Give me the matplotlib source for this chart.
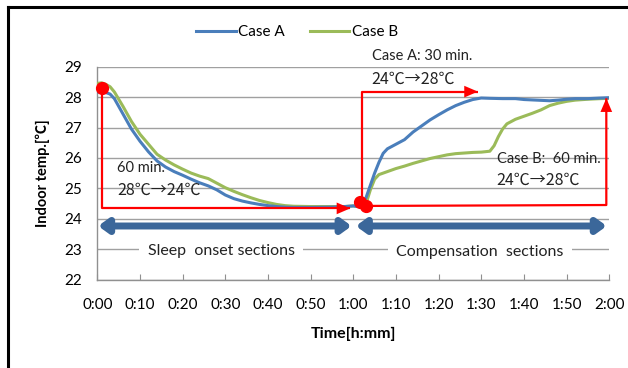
import matplotlib
matplotlib.use("Agg")
import matplotlib.pyplot as plt
from matplotlib.lines import Line2D

plt.rcParams['font.family'] = ['Lato', 'Noto Sans CJK JP', 'DejaVu Sans']
CJK = ['Noto Sans CJK JP', 'DejaVu Sans']

# ---- data (minutes, degC) ----
t_a = [0, 1, 2, 3, 4, 6, 8, 10, 12, 14, 16, 18, 20, 22, 24, 26, 28, 30, 32, 34, 36, 38, 40, 42, 44,
       46, 50, 55, 58, 60, 61, 62, 63, 64, 65, 66, 67, 68, 70, 72, 74, 76, 78, 80, 82, 84, 86, 88,
       90, 92, 95, 98, 100, 103, 106, 108, 110, 112, 115, 118, 120]
temp_a = [28.17, 28.17, 28.15, 28.1, 27.95, 27.45, 26.95, 26.55, 26.2, 25.9, 25.7, 25.55, 25.43,
          25.3, 25.18, 25.08, 24.95, 24.78, 24.66, 24.58, 24.52, 24.47, 24.43, 24.4, 24.38,
          24.37, 24.37, 24.38, 24.4, 24.42, 24.4, 24.4, 24.7, 25.1, 25.5, 25.85, 26.15, 26.3,
          26.45, 26.6, 26.85, 27.05, 27.25, 27.42, 27.58, 27.72, 27.83, 27.92, 27.97, 27.96,
          27.95, 27.95, 27.92, 27.9, 27.88, 27.9, 27.93, 27.95, 27.95, 27.97, 27.98]

t_b = [0, 1, 2, 3, 4, 6, 8, 10, 12, 14, 16, 18, 20, 22, 24, 26, 28, 30, 32, 34, 36, 38, 40, 42, 44,
       46, 50, 55, 58, 60, 62, 63, 64, 65, 66, 68, 70, 72, 74, 76, 78, 80, 82, 84, 86, 88, 90, 92,
       93, 94, 95, 96, 98, 100, 102, 104, 106, 108, 110, 112, 115, 118, 120]
temp_b = [28.45, 28.47, 28.42, 28.34, 28.17, 27.7, 27.2, 26.78, 26.45, 26.12, 25.93, 25.77, 25.63,
          25.5, 25.4, 25.32, 25.17, 25.02, 24.9, 24.79, 24.69, 24.6, 24.53, 24.47, 24.43,
          24.41, 24.4, 24.4, 24.4, 24.42, 24.4, 24.5, 24.95, 25.3, 25.45, 25.55, 25.65, 25.73,
          25.82, 25.9, 25.98, 26.04, 26.1, 26.14, 26.16, 26.18, 26.19, 26.22, 26.4, 26.7, 26.95,
          27.12, 27.27, 27.37, 27.47, 27.58, 27.72, 27.8, 27.86, 27.9, 27.93, 27.95, 27.96]

x_ticks = list(range(0, 121, 10))
x_labels = ['0:00', '0:10', '0:20', '0:30', '0:40', '0:50', '1:00', '1:10', '1:20', '1:30',
            '1:40', '1:50', '2:00']
y_ticks = list(range(22, 30))

# annotation anchor points (minutes, degC)
cool_path_t = [1, 1, 59.3]
cool_path_T = [28.29, 24.34, 24.34]
heatA_path_t = [62.0, 62.0, 89.2]
heatA_path_T = [24.56, 28.18, 28.18]
heatB_path_t = [63.0, 119.3, 119.3]
heatB_path_T = [24.42, 24.45, 27.96]
dots_t = [1, 61.6, 63.0]
dots_T = [28.29, 24.56, 24.42]

blue = '#4A7EBB'
green = '#9BBB59'
red = '#FF0000'
arrow_blue = '#3B679A'
txt = '#222222'

fig = plt.figure(figsize=(6.28, 3.68), dpi=100)
ax = fig.add_axes([97.3 / 628, 1 - 279.5 / 368, (609.3 - 97.3) / 628, (279.5 - 66.7) / 368])

ax.set_xlim(0, 120)
ax.set_ylim(22, 29)
ax.set_yticks(y_ticks)
ax.set_xticks(x_ticks)
ax.set_xticklabels(x_labels)
ax.grid(axis='y', color='#A0A0A0', lw=1.0)
ax.set_axisbelow(True)
for s in ['top', 'right']:
    ax.spines[s].set_visible(False)
for s in ['left', 'bottom']:
    ax.spines[s].set_color('#909090')
    ax.spines[s].set_linewidth(1.0)
ax.tick_params(axis='x', direction='in', length=4, color='#909090', pad=13, labelsize=11)
ax.tick_params(axis='y', length=0, pad=11, labelsize=11)

ax.plot(t_a, temp_a, color=blue, lw=2.2, label='Case A', zorder=4)
ax.plot(t_b, temp_b, color=green, lw=2.2, label='Case B', zorder=3)

# red paths
for pt, pT in [(cool_path_t, cool_path_T), (heatA_path_t, heatA_path_T), (heatB_path_t, heatB_path_T)]:
    ax.plot(pt, pT, color=red, lw=1.6, zorder=5, solid_capstyle='butt')
    ax.annotate('', xy=(pt[-1], pT[-1]), xytext=(pt[-2], pT[-2]),
                arrowprops=dict(arrowstyle='-|>,head_length=0.7,head_width=0.3', color=red,
                                lw=0.01, shrinkA=0, shrinkB=0, mutation_scale=14), zorder=6)
ax.plot(dots_t, dots_T, 'o', color=red, ms=8.5, zorder=7, clip_on=False)

# blue double arrows
for a, b in [(0.2, 59.6), (60.6, 119.4)]:
    ax.annotate('', xy=(b, 23.76), xytext=(a, 23.76),
                arrowprops=dict(arrowstyle='<|-|>,head_length=0.55,head_width=0.4',
                                color=arrow_blue, lw=5, shrinkA=0, shrinkB=0,
                                mutation_scale=10), zorder=5)

# text annotations
ax.text(4.7, 25.66, '60 min.', fontsize=10.5, va='center', ha='left', color=txt, zorder=6)
ax.text(4.7, 24.94, '28℃→24℃', fontsize=11.5, va='center', ha='left', color=txt, zorder=6,
        family=CJK)
ax.text(64.3, 29.35, 'Case A: 30 min.', fontsize=10.5, va='center', ha='left', color=txt,
        clip_on=False, zorder=6)
ax.text(64.3, 28.57, '24℃→28℃', fontsize=11.5, va='center', ha='left', color=txt,
        clip_on=False, zorder=6, family=CJK)
ax.text(93.6, 25.95, 'Case B:  60 min.', fontsize=10.5, va='center', ha='left', color=txt, zorder=6)
ax.text(93.6, 25.25, '24℃→28℃', fontsize=11.5, va='center', ha='left', color=txt, zorder=6,
        family=CJK)

ax.text(29.0, 22.94, 'Sleep  onset sections', fontsize=11.5, va='center', ha='center', color=txt,
        zorder=6, bbox=dict(facecolor='white', edgecolor='none', pad=6))
ax.text(89.7, 22.9, 'Compensation  sections', fontsize=11.5, va='center', ha='center', color=txt,
        zorder=6, bbox=dict(facecolor='white', edgecolor='none', pad=6))

ax.set_ylabel('Indoor temp.[℃]', fontsize=10.5, fontweight='bold', labelpad=10)
ax.set_xlabel('Time[h:mm]', fontsize=11.5, fontweight='bold', labelpad=11)

leg = fig.legend(loc='center', bbox_to_anchor=(0.473, 1 - 32 / 368), ncol=2, frameon=False,
                 fontsize=11, handlelength=2.6, handletextpad=0.15, columnspacing=1.6)

# figure frame (top and left)
fig.add_artist(Line2D([8 / 628, 1], [1 - 7 / 368, 1 - 7 / 368], transform=fig.transFigure,
                      color='black', lw=2.2))
fig.add_artist(Line2D([8 / 628, 8 / 628], [0, 1 - 7 / 368], transform=fig.transFigure,
                      color='black', lw=2.2))

fig.savefig('out.png', dpi=100)
